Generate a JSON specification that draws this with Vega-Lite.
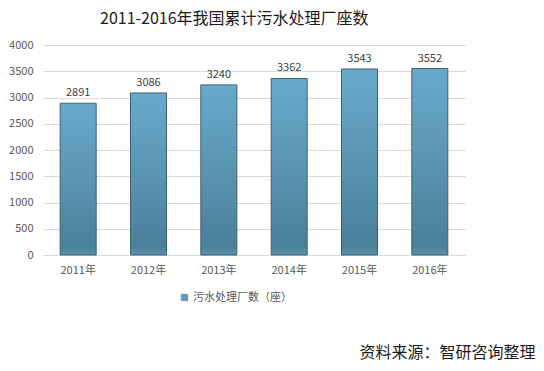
{
  "$schema": "https://vega.github.io/schema/vega-lite/v6.json",
  "autosize": {"type": "none"},
  "padding": {"left": 43, "top": 45, "right": 79, "bottom": 116},
  "width": 422,
  "height": 210,
  "background": "white",
  "config": {
    "font": "Noto Sans CJK SC",
    "view": {"stroke": null}
  },
  "title": {
    "text": "2011-2016年我国累计污水处理厂座数",
    "anchor": "start",
    "frame": "group",
    "dx": 57,
    "offset": 12,
    "fontSize": 16,
    "fontWeight": "normal",
    "color": "#1a1a1a",
    "font": "Noto Sans CJK SC"
  },
  "data": {
    "values": [
      {"year": "2011年", "value": 2891, "series": "污水处理厂数（座）"},
      {"year": "2012年", "value": 3086, "series": "污水处理厂数（座）"},
      {"year": "2013年", "value": 3240, "series": "污水处理厂数（座）"},
      {"year": "2014年", "value": 3362, "series": "污水处理厂数（座）"},
      {"year": "2015年", "value": 3543, "series": "污水处理厂数（座）"},
      {"year": "2016年", "value": 3552, "series": "污水处理厂数（座）"}
    ]
  },
  "encoding": {
    "x": {
      "field": "year",
      "type": "nominal",
      "scale": {"paddingInner": 0.488, "paddingOuter": 0.244},
      "axis": {
        "labelAngle": 0,
        "labelFontSize": 11,
        "labelColor": "#595959",
        "labelPadding": 9,
        "ticks": false,
        "domainColor": "#d9d9d9",
        "title": "资料来源：智研咨询整理",
        "titleFontSize": 16,
        "titleFontWeight": "normal",
        "titleColor": "#1a1a1a",
        "titleAlign": "right",
        "titleAnchor": "end",
        "titleBaseline": "top",
        "titleX": 492,
        "titleY": 89
      }
    },
    "y": {
      "field": "value",
      "type": "quantitative",
      "scale": {"domain": [0, 4000]},
      "axis": {
        "values": [0, 500, 1000, 1500, 2000, 2500, 3000, 3500, 4000],
        "format": "d",
        "title": null,
        "domain": false,
        "ticks": false,
        "labelFontSize": 11,
        "labelColor": "#595959",
        "labelPadding": 10,
        "gridColor": "#d9d9d9"
      }
    }
  },
  "layer": [
    {
      "mark": {
        "type": "bar",
        "stroke": "#3b5f73",
        "strokeWidth": 1,
        "fill": {
          "gradient": "linear",
          "x1": 0, "y1": 0, "x2": 0, "y2": 1,
          "stops": [
            {"offset": 0, "color": "#68aacc"},
            {"offset": 0.6, "color": "#5790ad"},
            {"offset": 0.95, "color": "#4a7f98"},
            {"offset": 1, "color": "#5a93ad"}
          ]
        }
      }
    },
    {
      "mark": {"type": "point", "filled": true, "opacity": 0, "size": 1},
      "encoding": {
        "color": {
          "field": "series",
          "type": "nominal",
          "scale": {"range": ["#5a9bbb"]},
          "legend": {
            "title": null,
            "orient": "none",
            "legendX": 136,
            "legendY": 247,
            "symbolType": "square",
            "symbolSize": 40,
            "symbolOpacity": 1,
            "symbolStrokeColor": "#3b5f73",
            "symbolStrokeWidth": 0.5,
            "labelFontSize": 11,
            "labelColor": "#595959",
            "labelOffset": 3
          }
        }
      }
    },
    {
      "mark": {"type": "text", "dy": -10, "fontSize": 11, "color": "#404040"},
      "encoding": {
        "text": {"field": "value", "type": "quantitative", "format": "d"}
      }
    }
  ]
}
